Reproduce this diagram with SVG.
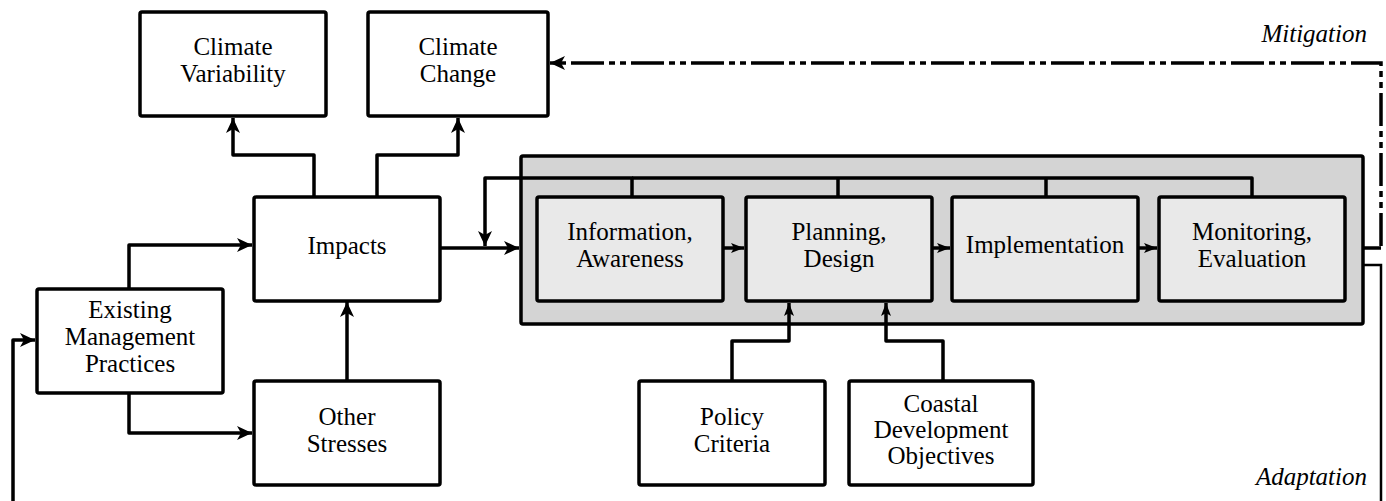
<svg xmlns="http://www.w3.org/2000/svg" width="1386" height="501" viewBox="0 0 1386 501" font-family="Liberation Serif, Times New Roman, Tinos, DejaVu Serif, serif">
<defs>
<style>
.box{fill:#fff;stroke:#000;stroke-width:3.5}
.grey{fill:#d4d4d4;stroke:#000;stroke-width:3.5}
.inner{fill:#e9e9e9;stroke:#000;stroke-width:3.5}
text{font-size:25px;fill:#000}
.t{text-anchor:middle}
.lab{font-style:italic;text-anchor:end}
.c{fill:none;stroke:#000;stroke-width:3.5;stroke-linejoin:round}
.thin{fill:none;stroke:#000;stroke-width:2.5}
.dash{fill:none;stroke:#000;stroke-width:3.5;stroke-dasharray:33 5 6 5 6 5}
</style>
<marker id="a" markerUnits="userSpaceOnUse" markerWidth="16" markerHeight="16" viewBox="0 0 16 16" refX="15" refY="8" orient="auto">
<path d="M0,1 L15,8 L0,15 L4,8 z" fill="#000"/>
</marker>
<marker id="s" markerUnits="userSpaceOnUse" markerWidth="14" markerHeight="12" viewBox="0 0 14 12" refX="13" refY="6" orient="auto">
<path d="M0,1 L13,6 L0,11 L3,6 z" fill="#000"/>
</marker>
</defs>

<g id="process">
<rect class="grey" x="521" y="156" width="842" height="168" rx="2"/>
</g>

<g id="connectors">
<path class="c" d="M314,197 V155 H233 V118" marker-end="url(#a)"/>
<path class="c" d="M377,197 V155 H458 V118" marker-end="url(#a)"/>
<path class="c" d="M129,289 V245 H252" marker-end="url(#a)"/>
<path class="c" d="M129,393 V433 H252" marker-end="url(#a)"/>
<path class="c" d="M347,381 V302" marker-end="url(#a)"/>
<path class="c" d="M13,510 V340 H35" marker-end="url(#a)"/>
<path class="c" d="M440,248 H519" marker-end="url(#a)"/>
<path class="c" d="M632,197 V178 H485 V246" marker-end="url(#a)"/>
<path class="c" d="M632,178 H1252 V197"/>
<path class="c" d="M838,178 V197"/>
<path class="c" d="M1046,178 V197"/>
<path class="c" d="M723,248 H744" marker-end="url(#s)"/>
<path class="c" d="M932,248 H950" marker-end="url(#s)"/>
<path class="c" d="M1138,248 H1157" marker-end="url(#s)"/>
<path class="c" d="M732,381 V341 H789 V303" marker-end="url(#s)"/>
<path class="c" d="M943,381 V341 H886 V303" marker-end="url(#s)"/>
<path class="c" d="M1363,248 H1381"/>
<path class="dash" d="M1381,246 V63 H550" marker-end="url(#a)"/>
<path class="thin" d="M1363,265 H1381 V510"/>
</g>

<g id="climate-variability">
<rect class="box" x="140" y="12" width="186" height="104" rx="2"/>
<text class="t" x="233" y="55">Climate</text>
<text class="t" x="233" y="82">Variability</text>
</g>
<g id="climate-change">
<rect class="box" x="368" y="12" width="180" height="104" rx="2"/>
<text class="t" x="458" y="55">Climate</text>
<text class="t" x="458" y="82">Change</text>
</g>
<g id="impacts">
<rect class="box" x="254" y="197" width="186" height="104" rx="2"/>
<text class="t" x="347" y="254">Impacts</text>
</g>
<g id="existing-management">
<rect class="box" x="37" y="289" width="186" height="104" rx="2"/>
<text class="t" x="130" y="318">Existing</text>
<text class="t" x="130" y="345">Management</text>
<text class="t" x="130" y="372">Practices</text>
</g>
<g id="other-stresses">
<rect class="box" x="254" y="381" width="186" height="104" rx="2"/>
<text class="t" x="347" y="425">Other</text>
<text class="t" x="347" y="452">Stresses</text>
</g>
<g id="information">
<rect class="inner" x="537" y="197" width="186" height="104" rx="2"/>
<text class="t" x="630" y="240">Information,</text>
<text class="t" x="630" y="267">Awareness</text>
</g>
<g id="planning">
<rect class="inner" x="746" y="197" width="186" height="104" rx="2"/>
<text class="t" x="839" y="240">Planning,</text>
<text class="t" x="839" y="267">Design</text>
</g>
<g id="implementation">
<rect class="inner" x="952" y="197" width="186" height="104" rx="2"/>
<text class="t" x="1045" y="253">Implementation</text>
</g>
<g id="monitoring">
<rect class="inner" x="1159" y="197" width="186" height="104" rx="2"/>
<text class="t" x="1252" y="240">Monitoring,</text>
<text class="t" x="1252" y="267">Evaluation</text>
</g>
<g id="policy-criteria">
<rect class="box" x="639" y="381" width="186" height="104" rx="2"/>
<text class="t" x="732" y="425">Policy</text>
<text class="t" x="732" y="452">Criteria</text>
</g>
<g id="coastal-development">
<rect class="box" x="849" y="381" width="184" height="104" rx="2"/>
<text class="t" x="941" y="412">Coastal</text>
<text class="t" x="941" y="438">Development</text>
<text class="t" x="941" y="464">Objectives</text>
</g>
<text class="lab" x="1367" y="42">Mitigation</text>
<text class="lab" x="1367" y="485">Adaptation</text>
</svg>
